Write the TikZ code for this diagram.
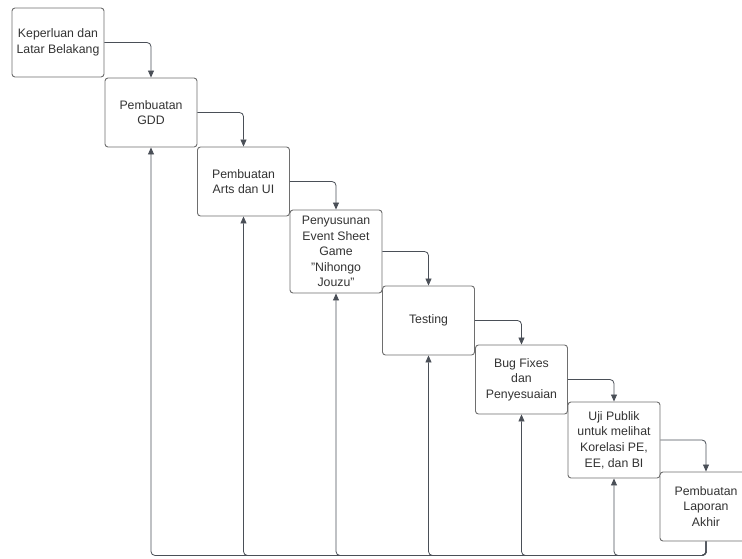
\documentclass[tikz,border=0pt]{standalone}
\usepackage{fontspec}
\setmainfont{Liberation Sans}
\usetikzlibrary{arrows.meta}
\definecolor{boxline}{HTML}{6E6E6E}
\definecolor{conn}{HTML}{4A4F57}
\definecolor{txt}{HTML}{333333}
\tikzset{
  stepbox/.style={draw=boxline, line width=0.9pt, rounded corners=3pt, fill=white,
    minimum width=92pt, minimum height=69pt, align=center, text=txt,
    font=\fontsize{12.3}{15.6}\selectfont, inner sep=0pt},
  flow/.style={draw=conn, line width=0.8pt, rounded corners=4pt,
    -{Triangle[length=7pt,width=6pt]}},
}
\begin{document}
\begin{tikzpicture}[x=1pt,y=-1pt]
\useasboundingbox (0,0) rectangle (742,559);
\clip (0,0) rectangle (742,559);
\node[stepbox] (b1) at (58,42.5) {Keperluan dan\\Latar Belakang};
\node[stepbox] (b2) at (151,112.5) {Pembuatan\\GDD};
\node[stepbox] (b3) at (243.5,181.5) {Pembuatan\\Arts dan UI};
\node[stepbox, minimum height=83pt] (b4) at (336,251.5) {Penyusunan\\Event Sheet\\Game\\"Nihongo\\Jouzu"};
\node[stepbox] (b5) at (428.5,320.5) {Testing};
\node[stepbox] (b6) at (521.5,379.5) {Bug Fixes\\dan\\Penyesuaian};
\node[stepbox, minimum height=76pt] (b7) at (614,440) {Uji Publik\\untuk melihat\\Korelasi PE,\\EE, dan BI};
\node[stepbox] (b8) at (706,506.5) {Pembuatan\\Laporan\\Akhir};
\foreach \a/\b in {b1/b2,b2/b3,b3/b4,b4/b5,b5/b6,b6/b7,b7/b8}
  \draw[flow] (\a.east) -| (\b.north);
\coordinate (low) at (706,555.5);
\foreach \b in {b2,b3,b4,b5,b6,b7}
  \draw[flow] (b8.south) |- (low) -| (\b.south);
\end{tikzpicture}
\end{document}
